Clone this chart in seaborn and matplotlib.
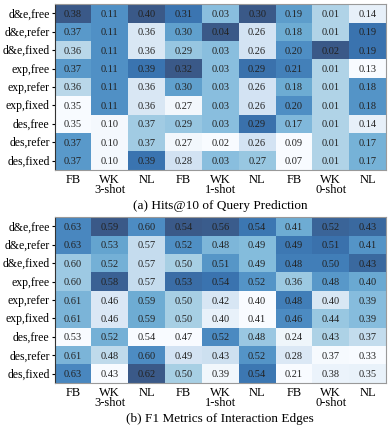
import numpy as np
import pandas as pd
import matplotlib
matplotlib.use("Agg")
import matplotlib.pyplot as plt
import seaborn as sns

rows = ["d&e,free", "d&e,refer", "d&e,fixed", "exp,free", "exp,refer",
        "exp,fixed", "des,free", "des,refer", "des,fixed"]
col_labels = ["FB", "WK\n3-shot", "NL", "FB", "WK\n1-shot", "NL", "FB", "WK\n0-shot", "NL"]

# (a) Hits@10 of Query Prediction
hits = [
    [0.38, 0.11, 0.40, 0.31, 0.03, 0.30, 0.19, 0.01, 0.14],
    [0.37, 0.11, 0.36, 0.30, 0.04, 0.26, 0.18, 0.01, 0.19],
    [0.36, 0.11, 0.36, 0.29, 0.03, 0.26, 0.20, 0.02, 0.19],
    [0.37, 0.11, 0.39, 0.32, 0.03, 0.29, 0.21, 0.01, 0.13],
    [0.36, 0.11, 0.36, 0.30, 0.03, 0.26, 0.18, 0.01, 0.18],
    [0.35, 0.11, 0.36, 0.27, 0.03, 0.26, 0.20, 0.01, 0.18],
    [0.35, 0.10, 0.37, 0.29, 0.03, 0.29, 0.17, 0.01, 0.14],
    [0.37, 0.10, 0.37, 0.27, 0.02, 0.26, 0.09, 0.01, 0.17],
    [0.37, 0.10, 0.39, 0.28, 0.03, 0.27, 0.07, 0.01, 0.17],
]

# (b) F1 Metrics of Interaction Edges
f1 = [
    [0.63, 0.59, 0.60, 0.54, 0.56, 0.54, 0.41, 0.52, 0.43],
    [0.63, 0.53, 0.57, 0.52, 0.48, 0.49, 0.49, 0.51, 0.41],
    [0.60, 0.52, 0.57, 0.50, 0.51, 0.49, 0.48, 0.50, 0.43],
    [0.60, 0.58, 0.57, 0.53, 0.54, 0.52, 0.36, 0.48, 0.40],
    [0.61, 0.46, 0.59, 0.50, 0.42, 0.40, 0.48, 0.40, 0.39],
    [0.61, 0.46, 0.59, 0.50, 0.40, 0.41, 0.46, 0.44, 0.39],
    [0.53, 0.52, 0.54, 0.47, 0.52, 0.48, 0.24, 0.43, 0.37],
    [0.61, 0.48, 0.60, 0.49, 0.43, 0.52, 0.28, 0.37, 0.33],
    [0.63, 0.43, 0.62, 0.50, 0.39, 0.54, 0.21, 0.38, 0.35],
]

captions = ["(a) Hits@10 of Query Prediction", "(b) F1 Metrics of Interaction Edges"]

plt.rcParams['font.family'] = ['Liberation Serif', 'DejaVu Serif']

fig = plt.figure(figsize=(3.9, 4.27), dpi=100)
axes = [fig.add_axes([0.140, 0.600, 0.850, 0.388]),
        fig.add_axes([0.140, 0.101, 0.850, 0.388])]


def draw(ax, values, caption):
    df = pd.DataFrame(values, index=rows)
    # colour each column by its own z-score
    z = (df - df.mean()) / df.std(ddof=0)
    sns.heatmap(z, ax=ax, cmap="Blues", vmin=-1.5, vmax=1.5, alpha=0.8,
                annot=df.values, fmt=".2f", cbar=False,
                annot_kws=dict(fontsize=7.5, color="#222222"))
    ax.set_xticklabels(col_labels, rotation=0, fontsize=9, linespacing=0.85)
    ax.set_yticklabels(rows, rotation=0, fontsize=8.5)
    ax.tick_params(axis='x', length=0, pad=2)
    ax.tick_params(axis='y', length=2.5, width=0.8, pad=1)
    for side, sp in ax.spines.items():
        sp.set_visible(True)
        sp.set_linewidth(0.8)
        sp.set_color("#333333" if side == "left" else "#999999")
    ax.set_xlabel(caption, fontsize=9.5, labelpad=3)
    ax.set_ylabel("")


for ax, vals, cap in zip(axes, [hits, f1], captions):
    draw(ax, vals, cap)

fig.savefig("out.png", dpi=100)
